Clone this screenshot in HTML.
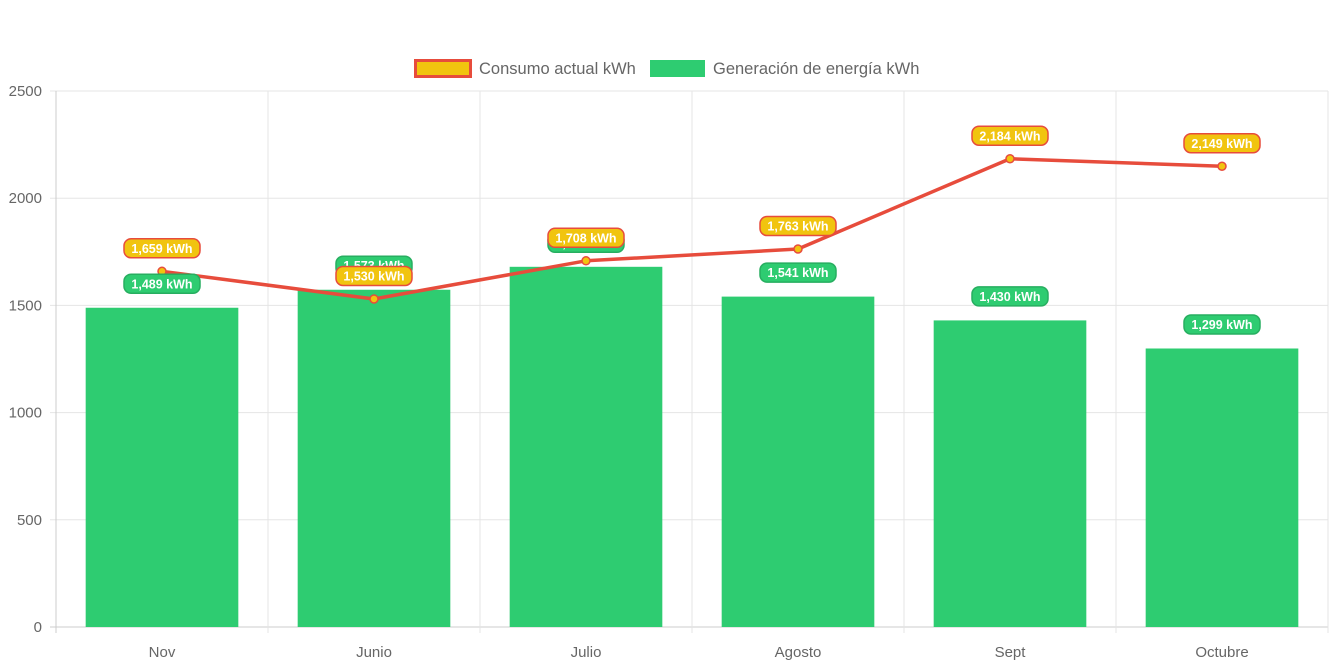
<!DOCTYPE html>
<html><head><meta charset="utf-8"><style>
html,body{margin:0;padding:0;background:#fff;width:1335px;height:666px;overflow:hidden}
svg{display:block;font-family:"Liberation Sans",sans-serif}
</style></head><body>
<svg id="chart" width="1335" height="666"></svg>
<script>
const categories=["Nov","Junio","Julio","Agosto","Sept","Octubre"];
const generation=[1489,1573,1680,1541,1430,1299];
const consumption=[1659,1530,1708,1763,2184,2149];
const yTicks=[0,500,1000,1500,2000,2500];
const NS="http://www.w3.org/2000/svg";
const svg=document.getElementById('chart');
const L=56,R=1328,T=91,B=627,yMax=2500;
const band=(R-L)/categories.length;
const x=i=>L+band*(i+0.5);
const y=v=>B-(v/yMax)*(B-T);
function el(tag,attrs,parent){const e=document.createElementNS(NS,tag);for(const k in attrs)e.setAttribute(k,attrs[k]);(parent||svg).appendChild(e);return e;}
const grid=el('g',{});


yTicks.forEach(t=>{
  el('line',{x1:L-6,x2:R,y1:y(t),y2:y(t),stroke:t===0?'#ccc':'#e5e5e5','stroke-width':1},grid);
  const tx=el('text',{x:L-14,y:y(t)+5,'text-anchor':'end','font-size':15,fill:'#666'});
  tx.textContent=t;
  
  
});
for(let i=0;i<=categories.length;i++){
  el('line',{x1:L+band*i,x2:L+band*i,y1:T,y2:B+6,stroke:i===0?'#ccc':'#e5e5e5','stroke-width':1},grid);
}
categories.forEach((c,i)=>{
  const tx=el('text',{x:x(i),y:657,'text-anchor':'middle','font-size':15,fill:'#666'});
  tx.textContent=c;
  
  
});
const bw=band*0.72;
generation.forEach((v,i)=>{
  const r=el('rect',{x:x(i)-bw/2,y:y(v),width:bw,height:B-y(v),fill:'#2ecc71'});
  
  
});
const pts=consumption.map((v,i)=>x(i)+','+y(v)).join(' ');
const line=el('polyline',{points:pts,fill:'none',stroke:'#e74c3c','stroke-width':3.5,'stroke-linejoin':'round'});


consumption.forEach((v,i)=>{
  const c=el('circle',{cx:x(i),cy:y(v),r:4,fill:'#f1c40f',stroke:'#e74c3c','stroke-width':1.5});
  
  
});
function label(cx,cy,txt,bg,border,name){
  const g=el('g',{});
  
  
  el('rect',{x:cx-38,y:cy-9.5,width:76,height:19,rx:7,fill:bg,stroke:border,'stroke-width':1.5},g);
  const t=el('text',{x:cx,y:cy+4.5,'text-anchor':'middle','font-size':12.5,'font-weight':'bold',fill:'#fff'},g);
  t.textContent=txt;
}
const fmt=v=>v.toLocaleString('en-US')+' kWh';
generation.forEach((v,i)=>label(x(i),y(v)-24,fmt(v),'#2ecc71','#27ae60','generation-label'));
consumption.forEach((v,i)=>label(x(i),y(v)-23,fmt(v),'#f1c40f','#e74c3c','consumption-label'));
const lg=el('g',{});


const l1=el('g',{},lg);


el('rect',{x:415.5,y:60.5,width:55,height:16,fill:'#f1c40f',stroke:'#e74c3c','stroke-width':3},l1);
const t1=el('text',{x:479,y:74,'font-size':16.5,fill:'#666'},l1);t1.textContent='Consumo actual kWh';
const l2=el('g',{},lg);


el('rect',{x:650,y:60,width:55,height:17,fill:'#2ecc71'},l2);
const t2=el('text',{x:713,y:74,'font-size':16.5,fill:'#666'},l2);t2.textContent='Generación de energía kWh';
</script>
</body></html>
